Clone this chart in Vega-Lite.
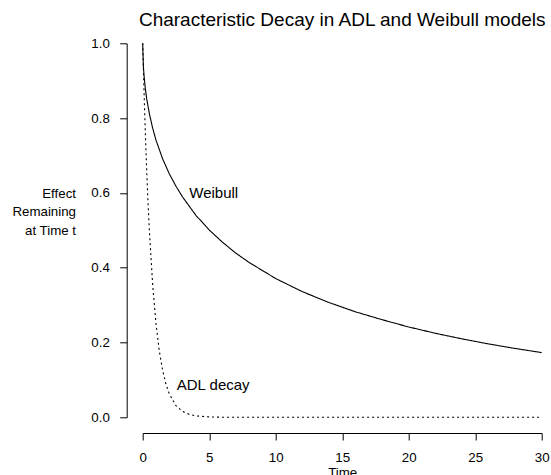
{
  "$schema": "https://vega.github.io/schema/vega-lite/v6.json",
  "width": 399,
  "height": 374,
  "autosize": {"type": "none"},
  "padding": {"left": 142.7, "top": 43.3, "right": 9.3, "bottom": 57.7},
  "background": "white",
  "config": {"view": {"stroke": null}, "font": "Liberation Sans"},
  "title": {"text": "Characteristic Decay in ADL and Weibull models", "fontSize": 19, "font": "Liberation Sans", "fontWeight": "normal", "color": "black", "baseline": "alphabetic", "offset": -9, "anchor": "middle"},
  "datasets": {
    "curves": [
      {"t": 0, "value": 1, "model": "Weibull"},
      {"t": 0.05, "value": 0.939, "model": "Weibull"},
      {"t": 0.1, "value": 0.914, "model": "Weibull"},
      {"t": 0.2, "value": 0.878, "model": "Weibull"},
      {"t": 0.3, "value": 0.852, "model": "Weibull"},
      {"t": 0.5, "value": 0.812, "model": "Weibull"},
      {"t": 0.75, "value": 0.773, "model": "Weibull"},
      {"t": 1, "value": 0.741, "model": "Weibull"},
      {"t": 1.5, "value": 0.691, "model": "Weibull"},
      {"t": 2, "value": 0.651, "model": "Weibull"},
      {"t": 2.5, "value": 0.618, "model": "Weibull"},
      {"t": 3, "value": 0.589, "model": "Weibull"},
      {"t": 4, "value": 0.54, "model": "Weibull"},
      {"t": 5, "value": 0.501, "model": "Weibull"},
      {"t": 6, "value": 0.468, "model": "Weibull"},
      {"t": 7, "value": 0.439, "model": "Weibull"},
      {"t": 8, "value": 0.414, "model": "Weibull"},
      {"t": 10, "value": 0.371, "model": "Weibull"},
      {"t": 12, "value": 0.336, "model": "Weibull"},
      {"t": 14, "value": 0.307, "model": "Weibull"},
      {"t": 16, "value": 0.282, "model": "Weibull"},
      {"t": 18, "value": 0.261, "model": "Weibull"},
      {"t": 20, "value": 0.2415, "model": "Weibull"},
      {"t": 22, "value": 0.2247, "model": "Weibull"},
      {"t": 24, "value": 0.2097, "model": "Weibull"},
      {"t": 26, "value": 0.1962, "model": "Weibull"},
      {"t": 28, "value": 0.1841, "model": "Weibull"},
      {"t": 30, "value": 0.173, "model": "Weibull"},
      {"t": 0, "value": 1, "model": "ADL"},
      {"t": 0.1, "value": 0.871, "model": "ADL"},
      {"t": 0.2, "value": 0.758, "model": "ADL"},
      {"t": 0.3, "value": 0.66, "model": "ADL"},
      {"t": 0.4, "value": 0.574, "model": "ADL"},
      {"t": 0.5, "value": 0.5, "model": "ADL"},
      {"t": 0.75, "value": 0.354, "model": "ADL"},
      {"t": 1, "value": 0.25, "model": "ADL"},
      {"t": 1.25, "value": 0.177, "model": "ADL"},
      {"t": 1.5, "value": 0.125, "model": "ADL"},
      {"t": 1.75, "value": 0.0884, "model": "ADL"},
      {"t": 2, "value": 0.0625, "model": "ADL"},
      {"t": 2.5, "value": 0.0313, "model": "ADL"},
      {"t": 3, "value": 0.0156, "model": "ADL"},
      {"t": 3.5, "value": 0.0078, "model": "ADL"},
      {"t": 4, "value": 0.0039, "model": "ADL"},
      {"t": 5, "value": 0.001, "model": "ADL"},
      {"t": 6, "value": 0.0002, "model": "ADL"},
      {"t": 8, "value": 0, "model": "ADL"},
      {"t": 10, "value": 0, "model": "ADL"},
      {"t": 15, "value": 0, "model": "ADL"},
      {"t": 20, "value": 0, "model": "ADL"},
      {"t": 25, "value": 0, "model": "ADL"},
      {"t": 30, "value": 0, "model": "ADL"}
    ],
    "labels": [
      {"t": 3.5, "value": 0.5856, "label": "Weibull"},
      {"t": 2.56, "value": 0.073, "label": "ADL decay"}
    ]
  },
  "encoding": {
    "x": {
      "field": "t", "type": "quantitative",
      "scale": {"domain": [0, 30], "nice": false, "zero": false},
      "axis": {
        "offset": 15.7, "values": [0, 5, 10, 15, 20, 25, 30], "grid": false,
        "tickSize": 7, "tickColor": "black", "domainColor": "black", "tickWidth": 1, "domainWidth": 1,
        "labelPadding": 21.7, "labelBaseline": "alphabetic", "labelFontSize": 13.3, "labelColor": "black",
        "labelFlush": false, "labelOverlap": false, "labelFont": "Liberation Sans",
        "title": "Time", "titleX": 199.5, "titleY": 43, "titleBaseline": "alphabetic", "titleAlign": "center",
        "titleFontSize": 13.3, "titleFontWeight": "normal", "titleColor": "black", "titleFont": "Liberation Sans"
      }
    },
    "y": {
      "field": "value", "type": "quantitative",
      "scale": {"domain": [0, 1], "nice": false, "zero": false},
      "axis": {
        "offset": 16, "values": [0, 0.2, 0.4, 0.6, 0.8, 1.0], "format": ".1f", "grid": false,
        "tickSize": 7, "tickColor": "black", "domainColor": "black", "tickWidth": 1, "domainWidth": 1,
        "labelPadding": 10.4, "labelBaseline": "middle", "labelAlign": "right", "labelFontSize": 13.3, "labelColor": "black",
        "labelFlush": false, "labelOverlap": false, "labelFont": "Liberation Sans",
        "title": ["Effect", "Remaining", "at Time t"], "titleAngle": 0, "titleAlign": "right", "titleBaseline": "alphabetic",
        "titleX": -51.2, "titleY": 154, "titleLineHeight": 18.7,
        "titleFontSize": 13.3, "titleFontWeight": "normal", "titleColor": "black", "titleFont": "Liberation Sans"
      }
    }
  },
  "layer": [
    {
      "data": {"name": "curves"},
      "mark": {"type": "line", "strokeWidth": 1.1, "color": "black", "clip": false},
      "encoding": {
        "strokeDash": {"field": "model", "type": "nominal", "scale": {"domain": ["Weibull", "ADL"], "range": [[1, 0], [2, 3]]}, "legend": null}
      }
    },
    {
      "data": {"name": "labels"},
      "mark": {"type": "text", "align": "left", "baseline": "alphabetic", "fontSize": 15, "color": "black", "font": "Liberation Sans"},
      "encoding": {"text": {"field": "label", "type": "nominal"}}
    }
  ]
}
